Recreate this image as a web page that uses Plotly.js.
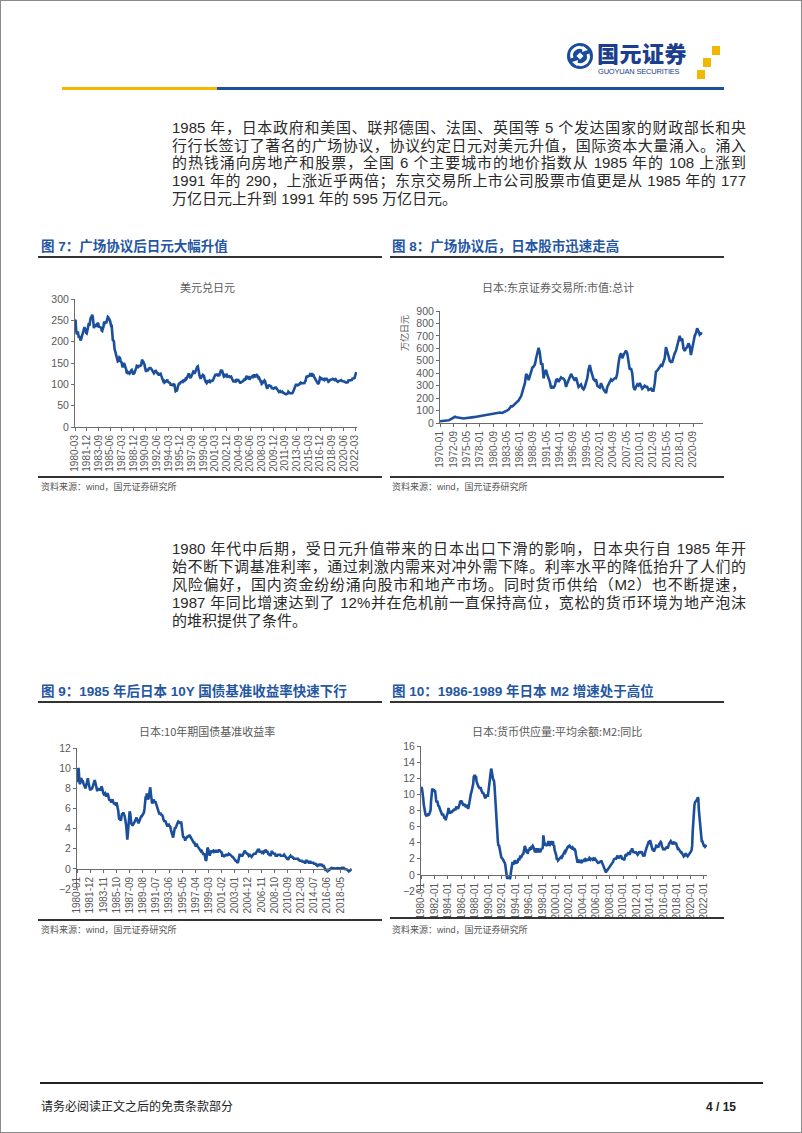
<!DOCTYPE html>
<html><head><meta charset="utf-8">
<script src="https://cdn.plot.ly/plotly-3.0.1.min.js"></script>
<style>
html,body{margin:0;padding:0;background:#fff;}
#page{position:relative;width:802px;height:1133px;overflow:hidden;background:#fff;font-family:"Liberation Sans","Noto Sans CJK SC",sans-serif;}
#frame{position:absolute;left:0;top:0;width:800px;height:1131px;border:1px solid #8a8a8a;pointer-events:none;}
#plot{position:absolute;left:0;top:0;width:802px;height:1133px;}
.abs{position:absolute;white-space:nowrap;}
.pl{position:absolute;left:172px;width:574px;height:18px;line-height:18px;font-size:15px;color:#2a2a2a;text-align:justify;text-align-last:justify;white-space:nowrap;}
.pl.last{text-align-last:left;}
.hd{position:absolute;font-size:13.5px;font-weight:bold;color:#2456a2;line-height:16px;white-space:nowrap;}
.rule{position:absolute;height:1.5px;background:#333;}
.src{position:absolute;font-size:9px;color:#555;line-height:12px;white-space:nowrap;}
</style></head>
<body><div id="page">
<div id="plot"></div>

<!-- header -->
<svg class="abs" style="left:566px;top:42px" width="28" height="28" viewBox="0 0 28 28">
 <circle cx="14" cy="14" r="13" fill="#1a4c9c"/>
 <path d="M6 16 A8 8 0 0 1 19 7.5" stroke="#fff" stroke-width="3" fill="none"/>
 <path d="M22 12 A8 8 0 0 1 9 20.5" stroke="#fff" stroke-width="3" fill="none"/>
 <polygon points="17,4 22,8 16,10" fill="#fff"/>
 <polygon points="11,24 6,20 12,18" fill="#fff"/>
 <rect x="11.5" y="11.5" width="5" height="5" fill="#fff" transform="rotate(45 14 14)"/>
</svg>
<div class="abs" style="left:597px;top:39px;font-size:22px;font-weight:900;color:#1b3e8e;font-family:'Noto Sans CJK SC';line-height:26px;letter-spacing:0.5px">国元证券</div>
<div class="abs" style="left:598px;top:67px;font-size:7.5px;color:#1b3e8e;font-family:'Liberation Sans Narrow','Liberation Sans';line-height:9px;letter-spacing:-0.2px">GUOYUAN SECURITIES</div>
<div class="abs" style="left:712px;top:46px;width:8px;height:9px;background:#f2b705"></div>
<div class="abs" style="left:703px;top:58px;width:8px;height:9px;background:#f2b705"></div>
<div class="abs" style="left:697px;top:70px;width:8px;height:9px;background:#f2b705"></div>
<div class="abs" style="left:62px;top:87px;width:155px;height:3px;background:#f5b800"></div>
<div class="abs" style="left:217px;top:87px;width:507px;height:3px;background:#1f4e9a"></div>

<!-- paragraph 1 -->
<div class="pl" style="top:119px">1985 年，日本政府和美国、联邦德国、法国、英国等 5 个发达国家的财政部长和央</div>
<div class="pl" style="top:137px">行行长签订了著名的广场协议，协议约定日元对美元升值，国际资本大量涌入。涌入</div>
<div class="pl" style="top:154px">的热钱涌向房地产和股票，全国 6 个主要城市的地价指数从 1985 年的 108 上涨到</div>
<div class="pl" style="top:172px">1991 年的 290，上涨近乎两倍；东京交易所上市公司股票市值更是从 1985 年的 177</div>
<div class="pl last" style="top:190px">万亿日元上升到 1991 年的 595 万亿日元。</div>

<!-- headings row 1 -->
<div class="hd" style="left:41px;top:239px">图 7：广场协议后日元大幅升值</div>
<div class="hd" style="left:392px;top:239px">图 8：广场协议后，日本股市迅速走高</div>
<div class="rule" style="left:38px;top:256px;width:344px"></div>
<div class="rule" style="left:390px;top:256px;width:334px"></div>
<div class="rule" style="left:38px;top:476px;width:344px"></div>
<div class="rule" style="left:390px;top:476px;width:334px"></div>
<div class="src" style="left:41px;top:481px">资料来源：wind，国元证券研究所</div>
<div class="src" style="left:392px;top:481px">资料来源：wind，国元证券研究所</div>

<!-- paragraph 2 -->
<div class="pl" style="top:540px">1980 年代中后期，受日元升值带来的日本出口下滑的影响，日本央行自 1985 年开</div>
<div class="pl" style="top:558px">始不断下调基准利率，通过刺激内需来对冲外需下降。利率水平的降低抬升了人们的</div>
<div class="pl" style="top:576px">风险偏好，国内资金纷纷涌向股市和地产市场。同时货币供给（M2）也不断提速，</div>
<div class="pl" style="top:594px">1987 年同比增速达到了 12%并在危机前一直保持高位，宽松的货币环境为地产泡沫</div>
<div class="pl last" style="top:612px">的堆积提供了条件。</div>

<!-- headings row 2 -->
<div class="hd" style="left:41px;top:684px">图 9：1985 年后日本 10Y 国债基准收益率快速下行</div>
<div class="hd" style="left:392px;top:684px">图 10：1986-1989 年日本 M2 增速处于高位</div>
<div class="rule" style="left:38px;top:701px;width:344px"></div>
<div class="rule" style="left:390px;top:701px;width:334px"></div>
<div class="rule" style="left:38px;top:919px;width:344px"></div>
<div class="rule" style="left:390px;top:917px;width:334px"></div>
<div class="src" style="left:41px;top:924px">资料来源：wind，国元证券研究所</div>
<div class="src" style="left:392px;top:924px">资料来源：wind，国元证券研究所</div>

<!-- footer -->
<div class="abs" style="left:40px;top:1082px;width:723px;height:2px;background:#222"></div>
<div class="abs" style="left:41px;top:1099px;font-size:12px;color:#222;line-height:16px">请务必阅读正文之后的免责条款部分</div>
<div class="abs" style="left:700px;top:1099px;width:36px;text-align:right;font-size:12px;font-weight:bold;color:#222;line-height:16px">4 / 15</div>

<div id="frame"></div>
</div>
<script>
// ---------- data ----------
// 图7 美元兑日元, monthly from 1980-03
const fxStart = [1980, 3];
const usdJpy = [
249,251,229,218,219,224,212,209,213,210,
203,206,209,215,220,224,233,234,229,231,220,219,
225,235,241,244,237,251,255,256,261,263,258,242,
232,236,238,238,235,240,241,244,242,233,235,234,
234,233,226,225,231,233,243,242,245,247,243,247,
254,258,257,252,252,249,241,237,237,215,204,203,
200,184,179,175,167,167,158,154,155,156,163,162,
154,153,151,143,140,144,150,147,143,143,135,128,
127,129,128,125,125,127,133,133,134,129,123,123,
127,127,131,133,138,143,141,141,145,142,143,143,
145,145,153,158,154,153,149,147,139,129,129,134,
134,131,137,137,138,139,138,137,134,131,130,128,
126,128,133,133,131,127,126,126,123,121,124,124,
125,121,117,112,110,107,108,104,105,107,107,109,
111,106,105,104,104,103,99,100,99,98,98,100,
100,99,91,84,85,85,87,94,100,101,102,102,
105,105,106,107,106,109,109,108,110,113,112,114,
118,123,122,126,119,115,115,118,121,121,125,130,
129,125,129,132,135,141,141,142,135,121,121,117,
113,116,120,120,122,120,120,114,107,106,105,103,
105,110,106,106,108,106,108,108,107,108,109,112,
117,116,121,124,122,122,125,121,119,122,122,127,
133,134,131,131,126,123,118,119,121,124,121,122,
118,119,119,119,117,118,118,118,115,109,109,107,
106,107,108,107,112,109,109,110,110,108,104,104,
104,105,105,107,106,108,111,110,111,114,118,120,
115,117,117,117,111,114,116,116,117,119,117,117,
121,121,117,119,121,122,121,117,115,116,111,112,
107,107,101,102,104,107,106,109,107,100,97,92,
90,93,98,99,97,96,95,95,91,90,89,90,
91,90,91,94,92,91,87,85,85,82,83,84,
82,82,82,83,81,80,79,77,77,77,77,78,
77,79,83,81,80,79,79,79,78,79,81,84,
89,93,95,98,101,97,100,98,99,98,100,103,
104,102,102,102,102,102,102,103,107,108,116,120,
118,119,120,120,120,124,123,124,120,120,123,122,
118,115,113,109,109,106,104,102,102,104,108,116,
115,113,113,110,112,111,112,110,111,113,113,113,
111,108,106,107,110,110,111,111,112,112,113,112,
109,110,111,112,110,108,108,106,107,108,109,109,
110,110,108,108,107,108,107,106,106,105,104,104,
104,105,109,109,109,110,110,110,110,113,114,114,
115,115,119,126,129
];
const fxTicks = ['1980-03','1981-12','1983-09','1985-06','1987-03','1988-12','1990-09','1992-06','1994-03','1995-12','1997-09','1999-06','2001-03','2002-12','2004-09','2006-06','2008-03','2009-12','2011-09','2013-06','2015-03','2016-12','2018-09','2020-06','2022-03'];

// 图8 东京证券交易所市值 (万亿日元), quarterly from 1970-01
const mcStart = [1970, 1];
const mktCap = [
14,15,13,15, 17,19,18,22, 28,35,40,46, 50,46,44,40, 40,38,36,36,
38,40,40,41, 43,45,46,47, 48,50,51,50, 53,56,58,61, 64,65,66,67,
68,70,74,75, 78,84,86,85, 84,82,81,87, 90,95,102,108, 120,135,133,142,
150,165,175,182, 200,215,250,279, 320,394,380,345, 380,431,445,453, 470,520,560,605,
560,470,480,359, 410,426,386,360, 330,279,290,285, 300,346,350,330, 350,367,360,355,
340,290,320,350, 370,394,375,360, 340,365,330,290, 300,310,280,270, 290,330,360,430,
466,420,390,350, 340,350,300,290, 285,320,285,270, 255,240,290,310, 320,350,340,350,
360,360,400,480, 540,560,520,545, 560,581,560,500, 430,440,400,290, 265,290,310,300,
320,300,275,285, 300,290,290,265, 270,275,260,260, 320,412,420,440, 450,466,460,490,
520,610,560,540, 500,490,493,540, 560,580,620,660, 700,660,680,600, 580,600,610,640,
620,546,600,640, 700,720,760,740, 710,720,715
];
const mcTicks = ['1970-01','1972-09','1975-05','1978-01','1980-09','1983-05','1986-01','1988-09','1991-05','1994-01','1996-09','1999-05','2002-01','2004-09','2007-05','2010-01','2012-09','2015-05','2018-01','2020-09'];

// 图9 日本10年期国债基准收益率 (%), monthly from 1980-01
const jgbStart = [1980, 1];
const jgb10y = [
8.6,9.3,10.0,9.9,8.9,8.4,8.6,9.0,8.9,8.7,8.8,8.5,
8.3,8.2,8.1,8.0,8.3,8.5,8.9,9.0,8.6,8.3,7.9,7.8,
7.9,8.0,7.9,8.1,8.3,8.5,8.7,8.8,8.6,8.2,8.0,7.8,
7.8,7.9,8.0,7.9,7.9,7.8,8.0,8.2,8.0,7.6,7.5,7.4,
7.5,7.5,7.3,7.2,7.4,7.5,7.4,7.0,6.9,6.8,6.9,6.7,
6.6,6.8,6.9,6.7,6.5,6.4,6.6,6.5,6.3,6.6,6.4,6.0,
5.8,5.2,4.9,5.0,4.8,4.9,5.3,5.5,5.4,5.6,5.4,5.3,
5.0,4.7,4.3,3.6,2.9,3.6,4.2,4.9,5.7,5.5,4.8,4.5,
4.4,4.3,4.4,4.6,4.6,4.7,4.9,5.0,5.1,4.9,4.7,4.6,
4.6,4.8,5.0,5.1,5.2,5.2,5.3,5.3,5.4,5.6,6.0,6.6,
7.2,7.0,7.5,7.1,6.9,7.0,7.4,7.9,8.1,7.5,6.9,6.6,
6.6,6.5,6.9,6.7,6.6,6.7,6.5,6.2,6.0,5.9,5.8,5.6,
5.4,5.5,5.5,5.3,5.4,5.3,5.2,4.9,4.8,4.7,4.8,4.6,
4.5,4.4,4.2,4.4,4.5,4.3,4.2,4.2,3.9,3.6,3.4,3.3,
3.1,3.4,3.9,4.1,4.0,4.2,4.3,4.4,4.6,4.7,4.6,4.6,
4.6,4.5,4.7,4.4,3.8,3.3,3.1,3.2,2.9,2.8,3.0,3.1,
3.2,3.2,3.2,3.3,3.3,3.3,3.2,3.0,2.9,2.8,2.8,2.7,
2.6,2.6,2.4,2.3,2.3,2.5,2.3,2.2,2.1,2.0,1.9,1.9,
1.8,1.9,1.8,1.7,1.6,1.4,1.5,1.4,1.1,0.8,0.9,1.6,
2.1,2.0,1.7,1.5,1.3,1.6,1.7,1.8,1.7,1.8,1.8,1.7,
1.6,1.8,1.8,1.8,1.7,1.7,1.7,1.8,1.9,1.8,1.8,1.7,
1.6,1.6,1.2,1.4,1.3,1.2,1.3,1.4,1.4,1.4,1.3,1.4,
1.4,1.5,1.4,1.4,1.4,1.3,1.3,1.2,1.2,1.1,1.0,1.0,
0.9,0.8,0.8,0.7,0.6,0.6,0.8,1.2,1.4,1.4,1.4,1.3,
1.3,1.3,1.4,1.6,1.6,1.8,1.7,1.6,1.5,1.5,1.5,1.4,
1.3,1.4,1.4,1.3,1.3,1.2,1.3,1.4,1.4,1.5,1.5,1.5,
1.5,1.6,1.7,1.9,1.9,1.9,1.9,1.7,1.7,1.7,1.7,1.6,
1.7,1.7,1.6,1.7,1.7,1.9,1.9,1.7,1.7,1.7,1.5,1.5,
1.4,1.4,1.3,1.4,1.7,1.7,1.6,1.5,1.5,1.5,1.5,1.3,
1.3,1.3,1.3,1.4,1.4,1.4,1.4,1.4,1.3,1.3,1.3,1.3,
1.3,1.3,1.4,1.3,1.3,1.2,1.1,1.0,1.0,0.9,1.1,1.2,
1.2,1.3,1.2,1.2,1.2,1.1,1.1,1.0,1.0,1.0,1.0,1.0,
1.0,1.0,1.0,0.9,0.9,0.8,0.8,0.8,0.8,0.8,0.7,0.7,
0.7,0.7,0.6,0.6,0.8,0.8,0.8,0.7,0.7,0.6,0.6,0.7,
0.7,0.6,0.6,0.6,0.6,0.6,0.5,0.5,0.5,0.5,0.4,0.3,
0.3,0.4,0.4,0.3,0.4,0.5,0.4,0.4,0.4,0.3,0.3,0.3,
0.2,0.0,-0.1,-0.1,-0.1,-0.2,-0.3,-0.1,-0.1,-0.1,0.0,0.05,
0.05,0.1,0.05,0.02,0.05,0.06,0.08,0.03,0.03,0.06,0.04,0.05,
0.08,0.05,0.04,0.05,0.05,0.03,0.05,0.1,0.12,0.13,0.1,0.0,
0.0,-0.03,-0.07,-0.05,-0.08,-0.15,-0.15,-0.25,-0.2,-0.15,-0.1,-0.02,
-0.02
];
const jgbTicks = ['1980-01','1981-12','1983-11','1985-10','1987-09','1989-08','1991-07','1993-06','1995-05','1997-04','1999-03','2001-02','2003-01','2004-12','2006-11','2008-10','2010-09','2012-08','2014-07','2016-06','2018-05'];

// 图10 日本M2同比 (%), monthly from 1980-01
const m2Start = [1980, 1];
const m2Yoy = [
10.7,10.9,10.6,10.2,9.5,8.7,8.0,7.8,7.5,7.4,7.5,7.3,
7.5,7.6,7.4,7.6,7.8,8.0,9.2,10.7,10.7,10.6,10.5,10.6,
10.4,10.5,9.4,9.3,9.0,9.2,8.9,8.5,8.6,8.3,8.1,7.8,
7.6,7.5,7.4,7.6,7.3,7.3,7.0,7.1,6.8,7.1,7.3,7.4,
7.8,8.3,7.7,7.6,7.8,7.8,7.7,8.0,7.9,8.0,8.0,8.1,
8.2,8.0,8.2,8.5,8.2,8.3,8.2,8.4,8.5,8.8,9.2,9.1,
9.2,8.9,8.8,8.7,8.6,8.8,8.7,8.6,8.4,8.7,8.5,8.3,
8.2,8.5,9.0,9.6,9.9,10.1,10.3,10.6,11.0,11.3,12.2,12.4,
12.4,11.8,12.3,11.6,11.3,11.2,11.0,10.9,10.8,10.7,10.9,10.5,
10.4,10.3,10.1,10.2,9.9,9.7,9.6,9.5,10.0,9.8,9.9,9.7,
10.4,11.2,11.9,12.0,12.8,13.2,12.9,12.0,12.0,11.8,11.7,11.0,
9.8,8.3,6.4,5.5,4.9,4.1,3.6,3.7,3.3,2.8,2.4,2.2,
2.1,1.9,1.9,1.8,1.7,1.5,1.3,0.6,0.2,-0.3,-0.5,-0.3,
-0.4,-0.2,-0.5,-0.4,0.2,0.8,1.2,1.6,1.4,1.3,1.6,1.8,
1.7,1.6,1.4,1.6,1.5,1.9,2.0,1.8,2.2,2.4,2.1,2.3,
2.4,2.6,2.5,2.9,3.2,3.6,3.4,3.0,2.8,3.1,2.6,2.9,
3.2,3.0,3.4,3.3,3.1,3.6,3.5,3.6,3.5,3.3,3.1,2.8,
2.9,3.1,3.3,2.9,2.8,3.3,3.0,3.1,2.8,3.1,3.0,3.3,
3.2,3.5,4.9,3.9,3.8,4.0,3.6,3.7,3.8,3.6,3.8,4.2,
4.0,3.6,3.7,4.2,3.8,3.9,3.8,4.2,3.6,3.7,3.1,2.9,
2.6,2.4,1.9,2.0,1.8,1.9,1.9,2.0,2.1,2.2,2.0,2.1,
2.3,2.5,2.7,2.8,2.9,2.8,3.0,3.1,3.2,3.4,3.5,3.6,
3.6,3.4,3.5,3.4,3.3,3.3,3.4,3.3,3.2,3.3,3.2,3.0,
2.5,2.0,1.6,1.5,1.7,1.6,1.9,1.7,1.5,1.6,1.7,1.6,
1.7,1.7,1.8,1.9,1.8,1.9,1.8,1.8,1.9,1.9,1.8,2.0,
2.1,2.0,1.9,2.0,2.0,2.0,1.9,2.0,1.9,1.9,2.0,1.9,
1.9,1.8,1.6,1.6,1.4,1.6,1.5,1.7,1.6,1.8,1.6,1.4,
1.3,1.2,1.0,0.8,0.6,0.4,0.4,0.5,0.5,0.6,0.7,0.8,
0.9,1.0,1.1,1.2,1.4,1.5,1.6,1.8,2.0,1.9,2.1,1.9,
2.2,2.2,2.4,2.0,2.4,2.1,2.3,2.3,2.4,2.1,2.1,1.9,
2.0,2.0,1.8,2.2,2.4,2.4,2.6,2.5,2.6,2.7,2.8,2.6,
2.6,2.8,3.1,3.0,3.3,3.0,2.8,2.7,2.9,2.7,2.8,2.8,
2.7,2.6,2.5,2.6,2.7,2.9,2.8,2.8,2.8,2.9,2.6,2.3,
2.3,2.4,2.3,2.7,3.1,3.3,3.4,3.6,3.9,4.1,4.2,3.8,
4.3,4.1,3.6,3.3,3.2,3.2,3.1,2.9,3.1,3.2,3.4,3.6,
3.5,3.5,3.6,3.4,3.8,4.0,4.0,4.1,4.0,3.6,3.3,3.1,
3.1,3.2,3.2,3.2,3.3,3.4,3.5,3.3,3.4,3.7,4.0,4.0,
4.1,4.2,4.1,3.9,3.8,3.9,4.0,4.1,3.9,3.9,4.0,3.7,
3.4,3.2,3.1,3.2,3.1,3.0,2.8,2.8,2.8,2.7,2.5,2.4,
2.3,2.4,2.4,2.6,2.6,2.3,2.4,2.3,2.4,2.4,2.6,2.7,
2.8,2.9,3.1,3.6,5.4,7.2,7.9,8.6,9.0,9.1,9.2,9.2,
9.4,9.6,9.5,8.0,7.0,5.9,5.2,4.7,4.2,4.2,4.0,3.7,
3.6,3.6,3.5,3.6,3.5,3.5
];
const m2Ticks = ['1980-01','1982-01','1984-01','1986-01','1988-01','1990-01','1992-01','1994-01','1996-01','1998-01','2000-01','2002-01','2004-01','2006-01','2008-01','2010-01','2012-01','2014-01','2016-01','2018-01','2020-01','2022-01'];

const chartTitles = ['美元兑日元', '日本:东京证券交易所:市值:总计', '日本:10年期国债基准收益率', '日本:货币供应量:平均余额:M2:同比'];
const unitLabel = '万亿日元';

// ---------- helpers ----------
function dates(start, n, step) {
  const out = [];
  for (let i = 0; i < n; i++) {
    const t = (start[1] - 1) + i * step;
    const y = start[0] + Math.floor(t / 12), m = t % 12 + 1;
    out.push(y + '-' + String(m).padStart(2, '0') + '-01');
  }
  return out;
}
const W = 802, H = 1133;
const px = v => v / W, py = v => 1 - v / H;
const LINE = '#1b4f9c', AX = '#6b6b6b', TXT = '#595959';

function xAxis(x0, x1, range, ticks, extra) {
  return Object.assign({
    domain: [px(x0), px(x1)], type: 'date', range: range,
    tickmode: 'array', tickvals: ticks.map(t => t + '-01'), ticktext: ticks,
    tickangle: -90, ticks: 'outside', ticklen: 3, tickwidth: 1, tickcolor: AX,
    showline: true, linecolor: AX, linewidth: 1, showgrid: false, zeroline: false,
    tickfont: {size: 10, color: TXT, family: 'Liberation Sans, Arial, sans-serif'}
  }, extra || {});
}
function yAxis(yTop, yBot, range, dtick, anchor) {
  return {
    domain: [py(yBot), py(yTop)], range: range, dtick: dtick, tick0: 0, anchor: anchor,
    ticks: 'outside', ticklen: 3, tickwidth: 1, tickcolor: AX,
    showline: true, linecolor: AX, linewidth: 1, showgrid: false, zeroline: false,
    tickfont: {size: 10.5, color: TXT, family: 'Liberation Sans, Arial, sans-serif'}
  };
}
function tr(x, y, xa, ya) {
  return {x: x, y: y, xaxis: xa, yaxis: ya, type: 'scatter', mode: 'lines',
    line: {color: LINE, width: 2.6}, hoverinfo: 'skip'};
}

const traces = [
  tr(dates(fxStart, usdJpy.length, 1), usdJpy, 'x', 'y'),
  tr(dates(mcStart, mktCap.length, 3), mktCap, 'x2', 'y2'),
  tr(dates(jgbStart, jgb10y.length, 1), jgb10y, 'x3', 'y3'),
  tr(dates(m2Start, m2Yoy.length, 1), m2Yoy, 'x4', 'y4')
];

// zero-line pixel positions for charts 3/4
const c3 = {top: 748, bot: 889, lo: -2, hi: 12};
const c4 = {top: 746, bot: 891, lo: -2, hi: 16};
const zeroPx = c => c.bot - (0 - c.lo) / (c.hi - c.lo) * (c.bot - c.top);

const titleFont = {size: 11, color: TXT, family: 'Noto Sans CJK SC, sans-serif'};
const ann = (text, x, y, extra) => Object.assign({text: text, x: px(x), y: py(y), xref: 'paper', yref: 'paper',
  showarrow: false, xanchor: 'center', yanchor: 'middle', font: titleFont}, extra || {});

const layout = {
  width: W, height: H, margin: {l: 0, r: 0, t: 0, b: 0},
  paper_bgcolor: 'rgba(0,0,0,0)', plot_bgcolor: 'rgba(0,0,0,0)', showlegend: false,
  font: {family: 'Liberation Sans, Arial, sans-serif', size: 10, color: TXT},
  xaxis: xAxis(75, 357, ['1980-03-01', '2022-06-15'], fxTicks, {anchor: 'y'}),
  yaxis: yAxis(299, 427, [0, 300], 50, 'x'),
  xaxis2: xAxis(440, 703, ['1970-01-01', '2022-09-01'], mcTicks, {anchor: 'y2'}),
  yaxis2: yAxis(311, 423, [0, 900], 100, 'x2'),
  xaxis3: xAxis(77, 352, ['1980-01-01', '2020-01-15'], jgbTicks, {anchor: 'free', position: py(zeroPx(c3))}),
  yaxis3: yAxis(c3.top, c3.bot, [c3.lo, c3.hi], 2, 'x3'),
  xaxis4: xAxis(421, 707, ['1980-01-01', '2022-06-15'], m2Ticks, {anchor: 'free', position: py(zeroPx(c4))}),
  yaxis4: yAxis(c4.top, c4.bot, [c4.lo, c4.hi], 2, 'x4'),
  annotations: [
    ann(chartTitles[0], 207, 287),
    ann(chartTitles[1], 558, 287),
    ann(chartTitles[2], 207, 731),
    ann(chartTitles[3], 557, 731),
    ann(unitLabel, 405, 333, {textangle: -90, font: {size: 9, color: TXT, family: 'Noto Sans CJK SC, sans-serif'}})
  ]
};
Plotly.newPlot('plot', traces, layout, {staticPlot: true, displayModeBar: false});
</script>
</body></html>
